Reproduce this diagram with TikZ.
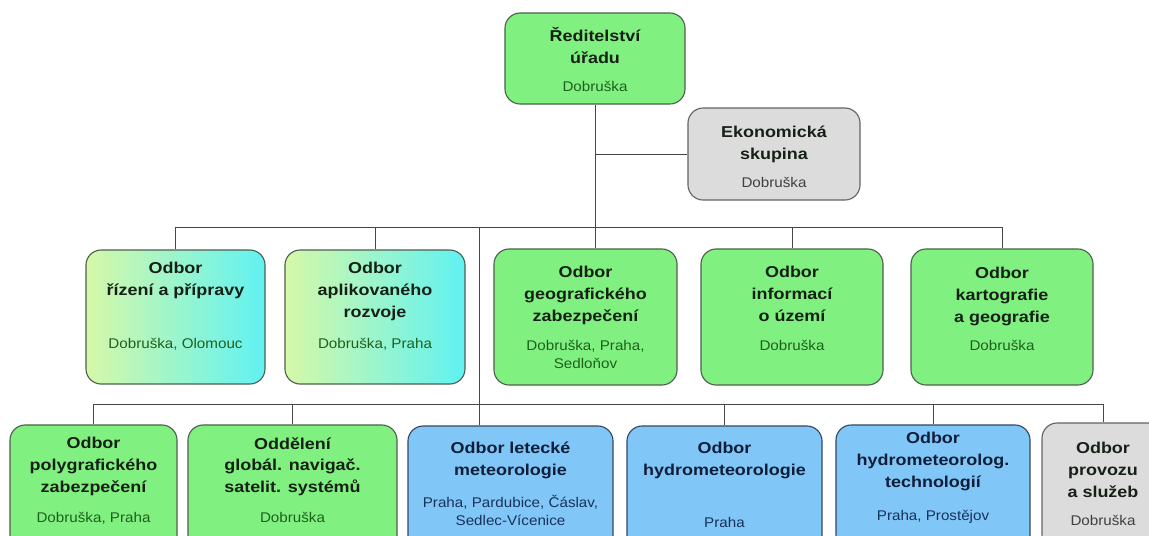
\documentclass[tikz,border=0pt]{standalone}
\usepackage{fontspec}
\setmainfont[FakeStretch=1.08, BoldFeatures={FakeStretch=1.14}]{Liberation Sans}
\definecolor{fillgreen}{RGB}{128,240,128}
\definecolor{fillblue}{RGB}{128,198,246}
\definecolor{fillgrey}{RGB}{220,220,220}
\definecolor{gradleft}{RGB}{214,248,168}
\definecolor{gradright}{RGB}{96,242,242}
\definecolor{edgegreen}{RGB}{78,96,78}
\definecolor{edgeblue}{RGB}{52,72,100}
\definecolor{edgegrey}{RGB}{100,100,100}
\definecolor{linegrey}{RGB}{70,70,70}
\definecolor{headdark}{RGB}{22,32,22}
\definecolor{headnavy}{RGB}{16,30,58}
\definecolor{locgreen}{RGB}{30,96,30}
\definecolor{locnavy}{RGB}{24,50,92}
\definecolor{locgrey}{RGB}{64,64,64}

\begin{document}
\begin{tikzpicture}[x=0.025cm, y=-0.025cm,
  unit/.style={line width=0.8pt, rounded corners=0.38cm, inner sep=0pt},
  ugreen/.style={unit, draw=edgegreen, fill=fillgreen},
  ublue/.style={unit, draw=edgeblue, fill=fillblue},
  ugrey/.style={unit, draw=edgegrey, fill=fillgrey},
  ugrad/.style={unit, draw=edgegreen, left color=gradleft, right color=gradright},
  head/.style={anchor=north, align=center, inner sep=0pt, text=headdark,
    font=\fontsize{11.2}{15.5}\selectfont\bfseries},
  loc/.style={anchor=north, align=center, inner sep=0pt, text=locgreen,
    font=\fontsize{10}{13}\selectfont},
  link/.style={draw=linegrey, line width=0.7pt}]
\useasboundingbox (0,0) rectangle (1149,535);
\clip (0,0) rectangle (1149,535);

% top
\node[ugreen, minimum width=4.5cm, minimum height=2.275cm] (1) at (595,58.5) {};
\node[head] (1h) at (595,27) {Ředitelství\\úřadu};
\node[loc] (1l) at (595,81) {Dobruška};

\node[ugrey, minimum width=4.3cm, minimum height=2.3cm] (2) at (774,154) {};
\node[head] (2h) at (774,126) {Ekonomická\\skupina};
\node[loc, text=locgrey] (2l) at (774,177) {Dobruška};

% middle row
\node[ugrad, minimum width=4.475cm, minimum height=3.35cm] (3) at (175.5,317) {};
\node[head] (3h) at (175.5,262) {Odbor\\řízení a přípravy};
\node[loc] (3l) at (175.5,338) {Dobruška, Olomouc};

\node[ugrad, minimum width=4.5cm, minimum height=3.35cm] (4) at (375,317) {};
\node[head] (4h) at (375,262) {Odbor\\aplikovaného\\rozvoje};
\node[loc] (4l) at (375,338) {Dobruška, Praha};

\node[ugreen, minimum width=4.575cm, minimum height=3.4cm] (5) at (585.5,317) {};
\node[head] (5h) at (585.5,266) {Odbor\\geografického\\zabezpečení};
\node[loc] (5l) at (585.5,340) {Dobruška, Praha,\\Sedloňov};

\node[ugreen, minimum width=4.55cm, minimum height=3.4cm] (6) at (792,317) {};
\node[head] (6h) at (792,266) {Odbor\\informací\\o území};
\node[loc] (6l) at (792,340) {Dobruška};

\node[ugreen, minimum width=4.55cm, minimum height=3.4cm] (7) at (1002,317) {};
\node[head] (7h) at (1002,267) {Odbor\\kartografie\\a geografie};
\node[loc] (7l) at (1002,340) {Dobruška};

% bottom row
\node[ugreen, minimum width=4.175cm, minimum height=3.125cm] (8) at (93.5,487.5) {};
\node[head] (8h) at (93.5,437) {Odbor\\polygrafického\\zabezpečení};
\node[loc] (8l) at (93.5,512) {Dobruška, Praha};

\node[ugreen, minimum width=5.225cm, minimum height=3.125cm] (9) at (292.5,487.5) {};
\node[head] (9h) at (292.5,437) {Oddělení\\globál. navigač.\\satelit. systémů};
\node[loc] (9l) at (292.5,512) {Dobruška};

\node[ublue, minimum width=5.125cm, minimum height=3.125cm] (10) at (510.5,488.5) {};
\node[head, text=headnavy] (10h) at (510.5,442) {Odbor letecké\\meteorologie};
\node[loc, text=locnavy] (10l) at (510.5,495) {Praha, Pardubice, Čáslav,\\Sedlec-Vícenice};

\node[ublue, minimum width=4.875cm, minimum height=3.125cm] (11) at (724.5,488.5) {};
\node[head, text=headnavy] (11h) at (724.5,442) {Odbor\\hydrometeorologie};
\node[loc, text=locnavy] (11l) at (724.5,517) {Praha};

\node[ublue, minimum width=4.85cm, minimum height=3.125cm] (12) at (933,487.5) {};
\node[head, text=headnavy] (12h) at (933,432) {Odbor\\hydrometeorolog.\\technologií};
\node[loc, text=locnavy] (12l) at (933,510) {Praha, Prostějov};

\node[ugrey, minimum width=3.05cm, minimum height=3.175cm] (13) at (1103,486.5) {};
\node[head] (13h) at (1103,442) {Odbor\\provozu\\a služeb};
\node[loc, text=locgrey] (13l) at (1103,515) {Dobruška};

% connectors
\coordinate (m) at (595,227);
\coordinate (v) at (479,227);
\coordinate (w) at (479,404);
\draw[link] (1.south) -- (1.south |- 5.north);
\draw[link] (1.south |- 2.west) -- (2.west);
\draw[link] (3.north) -- (3.north |- m) -- (7.north |- m) -- (7.north);
\draw[link] (4.north) -- (4.north |- m);
\draw[link] (6.north) -- (6.north |- m);
\draw[link] (v) -- (v |- 10.north);
\draw[link] (8.north) -- (8.north |- w) -- (13.north |- w) -- (13.north);
\draw[link] (9.north) -- (9.north |- w);
\draw[link] (11.north) -- (11.north |- w);
\draw[link] (12.north) -- (12.north |- w);
\end{tikzpicture}
\end{document}
